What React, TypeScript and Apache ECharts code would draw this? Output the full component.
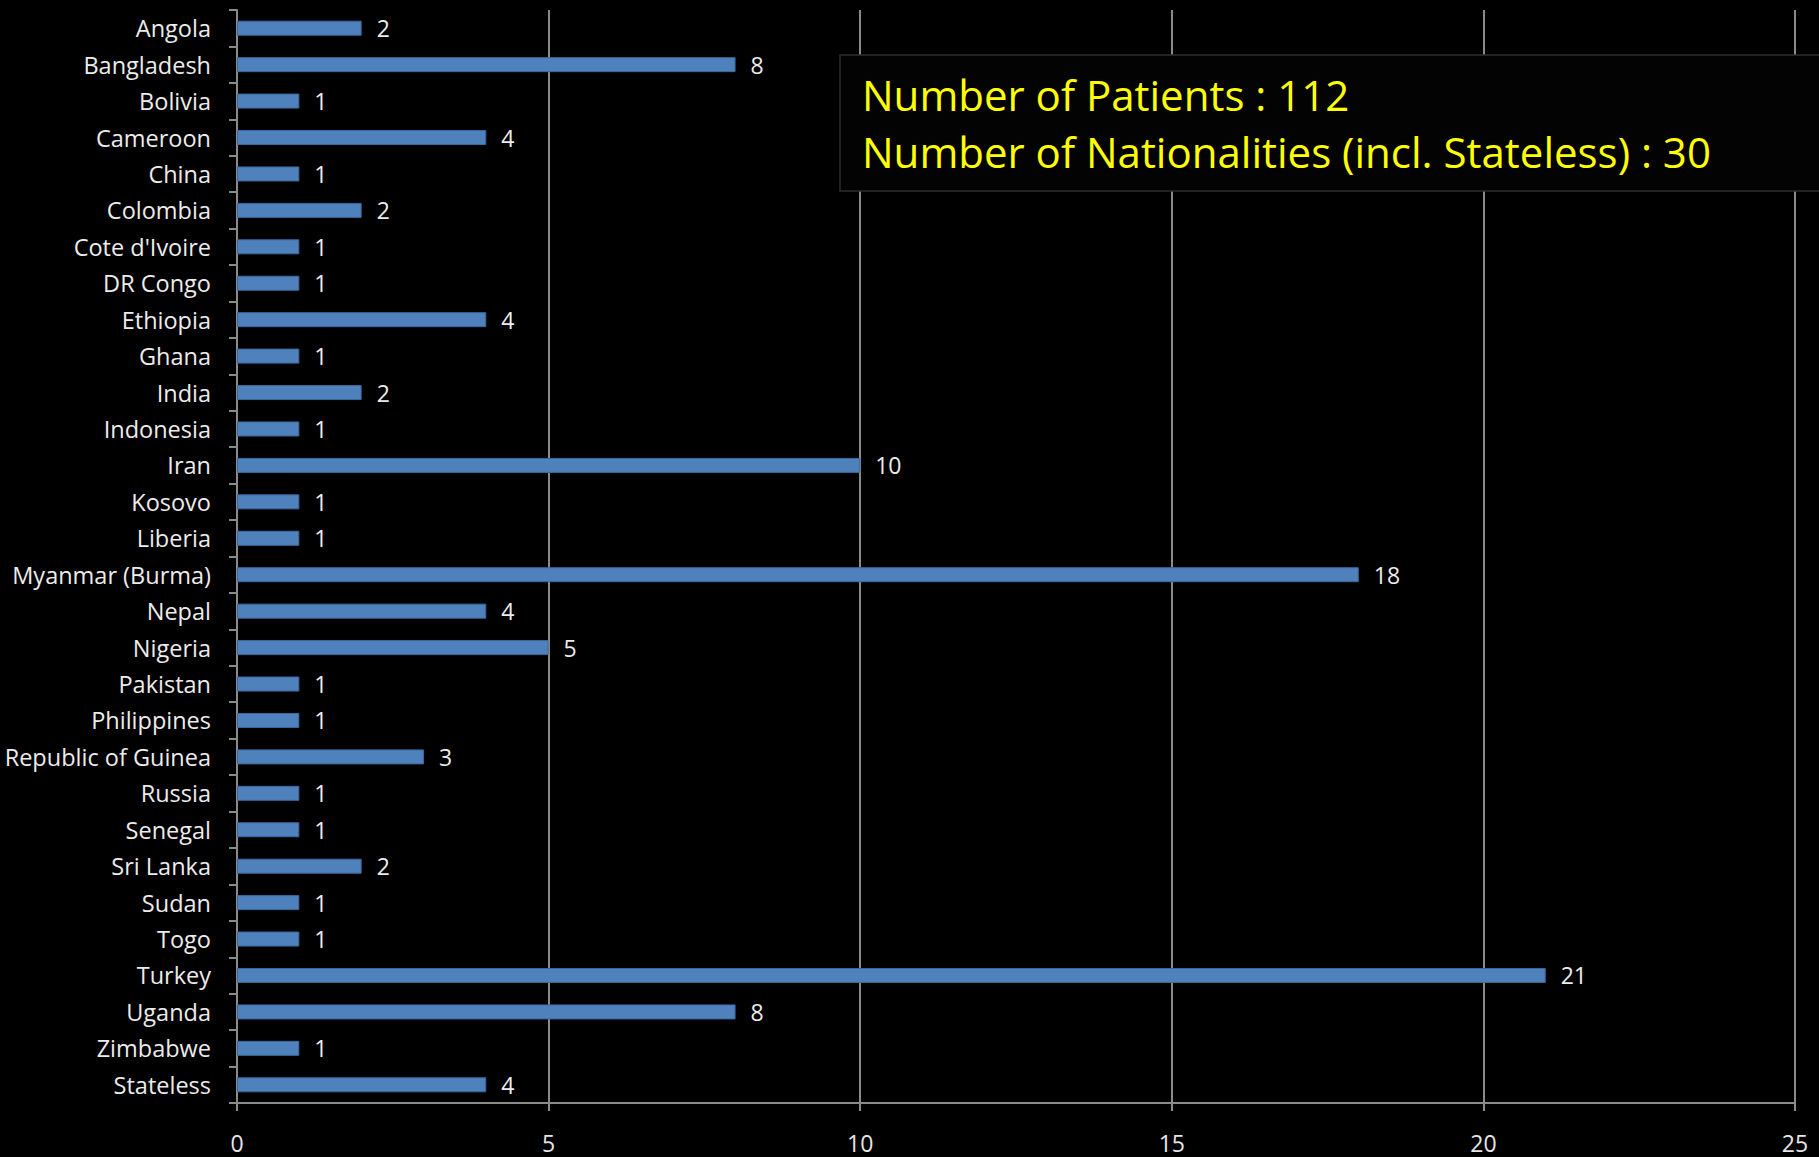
import React, { useEffect, useRef } from "react";
import * as echarts from "echarts";

const countries = [
  "Angola", "Bangladesh", "Bolivia", "Cameroon", "China", "Colombia",
  "Cote d'Ivoire", "DR Congo", "Ethiopia", "Ghana", "India", "Indonesia",
  "Iran", "Kosovo", "Liberia", "Myanmar (Burma)", "Nepal", "Nigeria",
  "Pakistan", "Philippines", "Republic of Guinea", "Russia", "Senegal",
  "Sri Lanka", "Sudan", "Togo", "Turkey", "Uganda", "Zimbabwe", "Stateless",
];
const patients = [
  2, 8, 1, 4, 1, 2, 1, 1, 4, 1, 2, 1, 10, 1, 1, 18, 4, 5, 1, 1, 3, 1, 1, 2,
  1, 1, 21, 8, 1, 4,
];
const xMin = 0;
const xMax = 25;
const xStep = 5;
const infoLines = [
  "Number of Patients : 112",
  "Number of Nationalities (incl. Stateless) : 30",
];

const FONT = "'Open Sans', 'Noto Sans', sans-serif";

export default function App() {
  const ref = useRef<HTMLDivElement>(null);
  useEffect(() => {
    if (!ref.current) return;
    const chart = echarts.init(ref.current, null, { renderer: "svg" });
    chart.setOption({
      animation: false,
      backgroundColor: "#000000",
      textStyle: { fontFamily: FONT },
      grid: {
        left: 237,
        right: 24,
        top: 10,
        bottom: 54,
        containLabel: false,
        outerBoundsMode: "none",
      },
      xAxis: {
        type: "value",
        min: xMin,
        max: xMax,
        interval: xStep,
        axisLine: { show: true, lineStyle: { color: "#8a8a8a", width: 2 } },
        axisTick: { show: true, length: 8, lineStyle: { color: "#8a8a8a", width: 2 } },
        axisLabel: { color: "#e6e6e6", fontSize: 23, fontFamily: FONT, margin: 28 },
        splitLine: { show: true, lineStyle: { color: "#8a8a8a", width: 2 } },
      },
      yAxis: {
        type: "category",
        data: countries,
        inverse: true,
        axisLine: { show: true, lineStyle: { color: "#8a8a8a", width: 2 } },
        axisTick: { show: true, length: 8, lineStyle: { color: "#8a8a8a", width: 2 } },
        axisLabel: { color: "#ececec", fontSize: 23.5, fontFamily: FONT, margin: 26 },
        splitLine: { show: false },
      },
      series: [
        {
          type: "bar",
          data: patients,
          barWidth: 15,
          itemStyle: { color: "#4f81bd", borderColor: "#3a6a9e", borderWidth: 1 },
          label: {
            show: true,
            position: "right",
            distance: 15,
            color: "#ececec",
            fontSize: 23,
            fontFamily: FONT,
          },
        },
      ],
      graphic: [
        {
          type: "rect",
          z: 100,
          shape: { x: 840, y: 55, width: 1000, height: 136 },
          style: { fill: "#030303", stroke: "#2e2e2e", lineWidth: 1.5 },
        },
        {
          type: "text",
          z: 101,
          x: 862,
          y: 94,
          style: {
            text: infoLines[0],
            fill: "#ffff00",
            font: `42px ${FONT}`,
            verticalAlign: "middle",
          },
        },
        {
          type: "text",
          z: 101,
          x: 862,
          y: 151,
          style: {
            text: infoLines[1],
            fill: "#ffff00",
            font: `42px ${FONT}`,
            verticalAlign: "middle",
          },
        },
      ],
    });
    return () => chart.dispose();
  }, []);
  return (
    <div
      ref={ref}
      style={{ position: "fixed", left: 0, top: 0, width: 1819, height: 1157, background: "#000" }}
    />
  );
}
